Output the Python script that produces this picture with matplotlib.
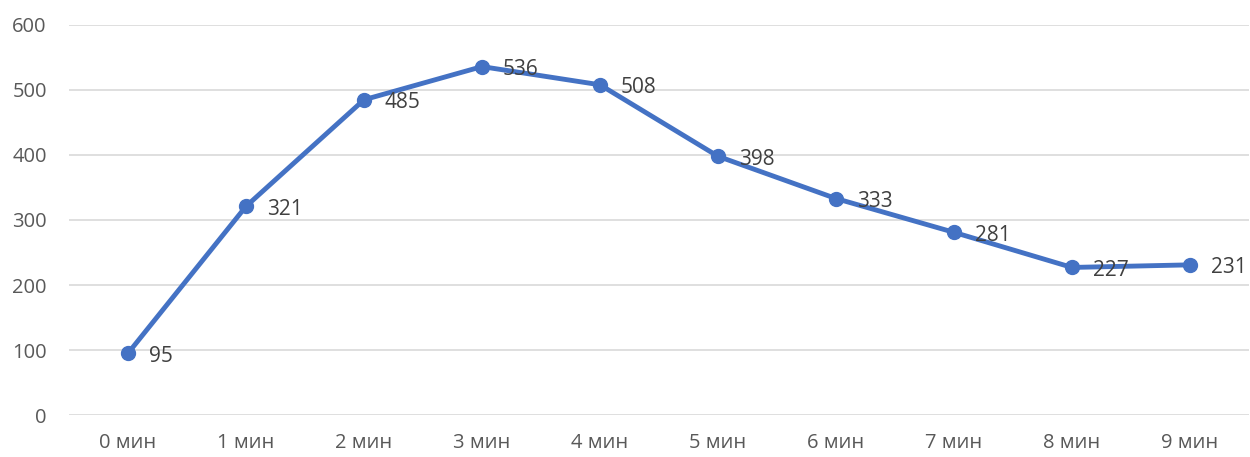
import matplotlib.pyplot as plt

minutes = ['0 мин', '1 мин', '2 мин', '3 мин', '4 мин',
           '5 мин', '6 мин', '7 мин', '8 мин', '9 мин']
counts = [95, 321, 485, 536, 508, 398, 333, 281, 227, 231]
yticks = [0, 100, 200, 300, 400, 500, 600]

lineColor = '#4472C4'
textColor = '#595959'

plt.rcParams['font.family'] = ['Open Sans', 'DejaVu Sans']

fig = plt.figure(figsize=(12.5, 4.57), dpi=100)
ax = fig.add_axes([0.0552, 0.0919, 0.944, 0.8534])

x = list(range(len(minutes)))
ax.plot(x, counts, color=lineColor, linewidth=3.5, marker='o',
        markersize=10, zorder=3)

for xi, v in zip(x, counts):
    ax.annotate(str(v), (xi, v), xytext=(15, -2), textcoords='offset points',
                ha='left', va='center', fontsize=15, color='#404040', zorder=4)

ax.set_xlim(-0.5, len(minutes) - 0.5)
ax.set_ylim(0, 600)
ax.set_yticks(yticks)
ax.set_xticks(x)
ax.set_xticklabels(minutes)
ax.grid(axis='y', color='#D9D9D9', linewidth=1.2)
ax.set_axisbelow(True)
for s in ax.spines.values():
    s.set_visible(False)
ax.tick_params(length=0, labelsize=14.5, colors=textColor)
ax.tick_params(axis='y', pad=16)
ax.tick_params(axis='x', pad=13)

plt.savefig('out.png', dpi=100)
